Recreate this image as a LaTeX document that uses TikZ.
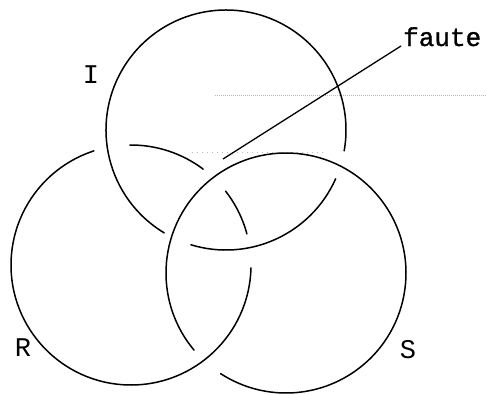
\documentclass[tikz,border=0pt]{standalone}
\usepackage{fontspec}
\newfontfamily\monofont{Liberation Mono}
\newfontfamily\fautefont[FakeBold=1.2]{Liberation Mono}
\begin{document}
\begin{tikzpicture}[x=1pt,y=-1pt,
  ring/.style={line width=1.5pt, line cap=round},
  lbl/.style={font=\monofont\fontsize{27}{27}\selectfont, inner sep=0pt},
  flbl/.style={font=\fautefont\fontsize{26}{26}\selectfont, inner sep=0pt},
  rule/.style={gray!55, line width=0.6pt, dash pattern=on 1.2pt off 0.8pt}]
\useasboundingbox (0,0) rectangle (487,394);
% faint ruled lines of the scan
\draw[rule] (215,95) -- (487,95);
\draw[rule, dash pattern=on 1pt off 4pt] (192,152) -- (325,152);
% centres
\coordinate (cI) at (226,130);
\coordinate (cR) at (131,265);
\coordinate (cS) at (286,273);
% circle I
\draw[ring] (cI) ++(24:120) arc[start angle=24, end angle=107, radius=120];
\draw[ring] (cI) ++(121:120) arc[start angle=121, end angle=370, radius=120];
% circle R
\draw[ring] (cR) ++(1.4:120) arc[start angle=1.4, end angle=252, radius=120];
\draw[ring] (cR) ++(269.5:120) arc[start angle=269.5, end angle=307, radius=120];
\draw[ring] (cR) ++(322:120) arc[start angle=322, end angle=345, radius=120];
% circle S
\draw[ring] (cS) ++(140:120) arc[start angle=140, end angle=483, radius=120];
% labels
\node[lbl] (labI) at (91,75) {I};
\node[lbl] (labR) at (23,348) {R};
\node[lbl] (labS) at (408,350) {S};
\node[flbl, anchor=base west] (faute) at (403,46) {faute};
\coordinate (tip) at (223,159);
\draw[line width=1.3pt] (faute.base west) ++(-2,0) coordinate (fs) -- (tip);
\end{tikzpicture}
\end{document}
